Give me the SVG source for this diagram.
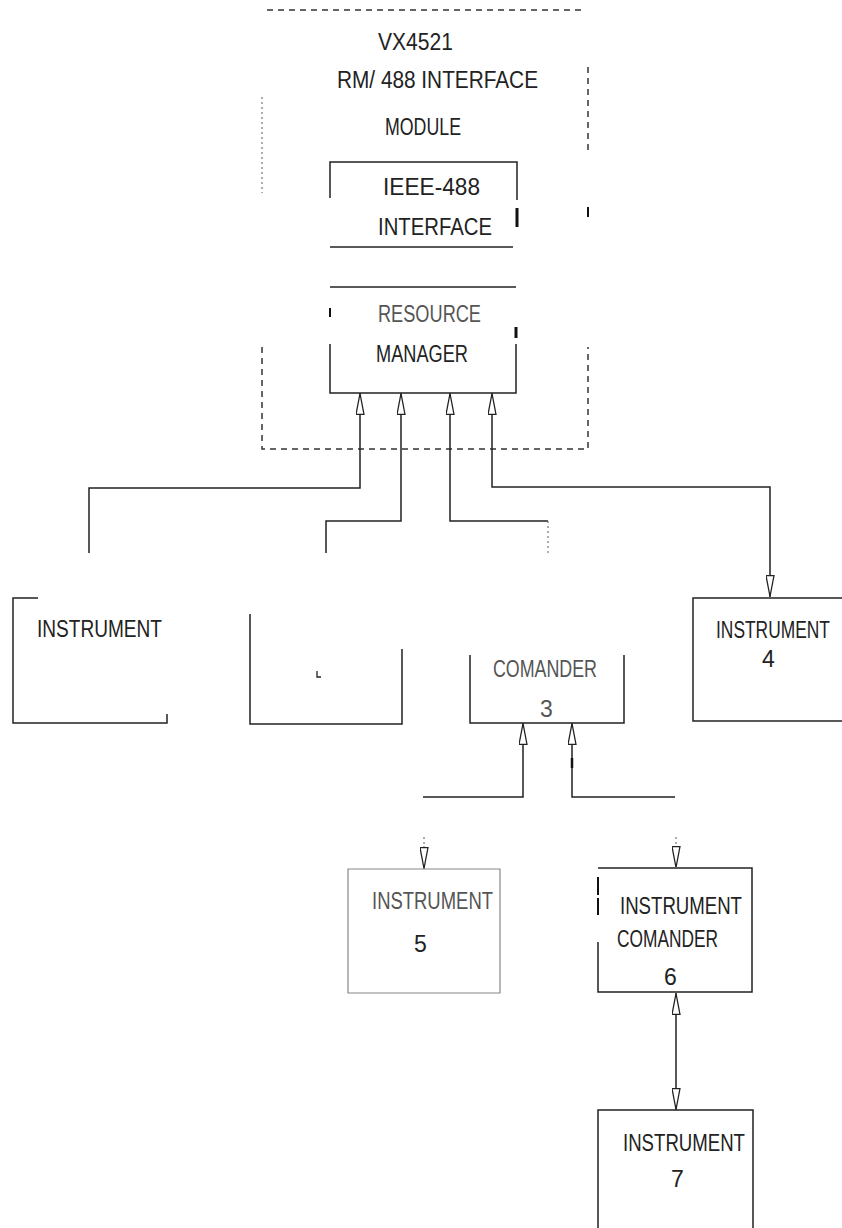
<svg xmlns="http://www.w3.org/2000/svg" width="842" height="1228" viewBox="0 0 842 1228">
<style>
.bg{fill:#fff}
.ln{fill:none;stroke:#222;stroke-width:1.5}
.lt{fill:none;stroke:#888;stroke-width:1.2}
.dash{fill:none;stroke:#333;stroke-width:1.5;stroke-dasharray:6 5}
.dot{fill:none;stroke:#777;stroke-width:1.2;stroke-dasharray:2 3}
.tk{fill:none;stroke:#111;stroke-width:3}
text{font-family:"Liberation Sans","DejaVu Sans",sans-serif;font-size:23px;fill:#222}
.gray{fill:#555}
</style>
<defs>
<marker id="ah" viewBox="0 0 22 9" refX="22" refY="4.5" markerWidth="22" markerHeight="9" markerUnits="userSpaceOnUse" orient="auto-start-reverse">
<path d="M0.5,0.5 L21.5,4.5 L0.5,8.5 Z" fill="#fff" stroke="#222" stroke-width="1.3"/>
</marker>
</defs>
<rect class="bg" x="0" y="0" width="842" height="1228"/>

<g id="module">
<path class="dash" d="M267,10 H583"/>
<path class="dot" d="M262,97 V193"/>
<path class="dash" d="M588,67 V152"/>
<path class="tk" d="M588,207 V217" style="stroke-width:2"/>
<path class="dash" d="M262,347 V449 H588 V347"/>
<text x="378" y="50" textLength="75" lengthAdjust="spacingAndGlyphs" font-size="21">VX4521</text>
<text x="337" y="88" textLength="201" lengthAdjust="spacingAndGlyphs">RM/ 488  INTERFACE</text>
<text x="385" y="135" textLength="76" lengthAdjust="spacingAndGlyphs">MODULE</text>
</g>

<g id="ieee">
<path class="ln" d="M330,198 V162 H517 V200"/>
<path class="tk" d="M517,208 V227"/>
<path class="ln" d="M330,247 H513"/>
<text x="383" y="195" textLength="97" lengthAdjust="spacingAndGlyphs">IEEE-488</text>
<text x="378" y="235" textLength="114" lengthAdjust="spacingAndGlyphs">INTERFACE</text>
</g>

<g id="rm">
<path class="ln" d="M330,287 H516"/>
<path class="tk" d="M330,308 V317" style="stroke-width:2"/>
<path class="tk" d="M516,327 V338"/>
<path class="ln" d="M330,344 V393 H516 V344"/>
<text x="378" y="322" textLength="103" lengthAdjust="spacingAndGlyphs" class="gray">RESOURCE</text>
<text x="376" y="362" textLength="92" lengthAdjust="spacingAndGlyphs">MANAGER</text>
</g>

<g id="inst1">
<path class="ln" d="M38,598 H13 V723 H167 V714"/>
<text x="37" y="637" textLength="125" lengthAdjust="spacingAndGlyphs">INSTRUMENT</text>
</g>

<g id="inst2">
<path class="ln" d="M250,614 V724 H402 V649"/>
<path class="ln" d="M317,671 V677 H321" style="stroke-width:1.3"/>
</g>

<g id="cmd3">
<path class="ln" d="M470,655 V723 H624 V655"/>
<text x="493" y="677" textLength="104" lengthAdjust="spacingAndGlyphs" class="gray">COMANDER</text>
<text x="540" y="717" font-size="20" class="gray">3</text>
</g>

<g id="inst4">
<path class="ln" d="M842,598 H693 V721 H842"/>
<text x="716" y="638" textLength="114" lengthAdjust="spacingAndGlyphs">INSTRUMENT</text>
<text x="762" y="667" font-size="20">4</text>
</g>

<g id="inst5">
<path class="lt" d="M348,869 H500 V993 H348 Z"/>
<text x="372" y="909" textLength="121" lengthAdjust="spacingAndGlyphs" class="gray">INSTRUMENT</text>
<text x="414" y="952" font-size="20" fill="#888">5</text>
</g>

<g id="inst6">
<path class="ln" d="M598,942 V992 H752 V868 H598"/>
<path class="tk" d="M598,877 V895 M598,898 V915" style="stroke-width:2"/>
<text x="620" y="914" textLength="122" lengthAdjust="spacingAndGlyphs">INSTRUMENT</text>
<text x="617" y="947" textLength="101" lengthAdjust="spacingAndGlyphs">COMANDER</text>
<text x="664" y="985" font-size="20">6</text>
</g>

<g id="inst7">
<path class="ln" d="M598,1228 V1110 H753 V1228"/>
<text x="623" y="1151" textLength="122" lengthAdjust="spacingAndGlyphs">INSTRUMENT</text>
<text x="671" y="1187" font-size="20">7</text>
</g>

<g id="connectors">
<path class="ln" d="M89,553 V488 H360 V393" marker-end="url(#ah)"/>
<path class="ln" d="M326,553 V521 H401 V393" marker-end="url(#ah)"/>
<path class="ln" d="M548,521 H450 V393" marker-end="url(#ah)"/>
<path class="dot" d="M548,521 V554"/>
<path class="ln" d="M492,393 V487 H770 V597" marker-start="url(#ah)" marker-end="url(#ah)"/>
<path class="ln" d="M423,797 H523 V723" marker-end="url(#ah)"/>
<path class="ln" d="M675,797 H572 V723" marker-end="url(#ah)"/>
<path class="tk" d="M572,758 V768" style="stroke-width:2.5"/>
<path class="dot" d="M424,837 V848"/>
<path class="lt" d="M424,846 V869" marker-end="url(#ah)"/>
<path class="dot" d="M676,837 V848"/>
<path class="lt" d="M676,846 V868" marker-end="url(#ah)"/>
<path class="ln" d="M676,993 V1110" marker-start="url(#ah)" marker-end="url(#ah)"/>
</g>
</svg>
